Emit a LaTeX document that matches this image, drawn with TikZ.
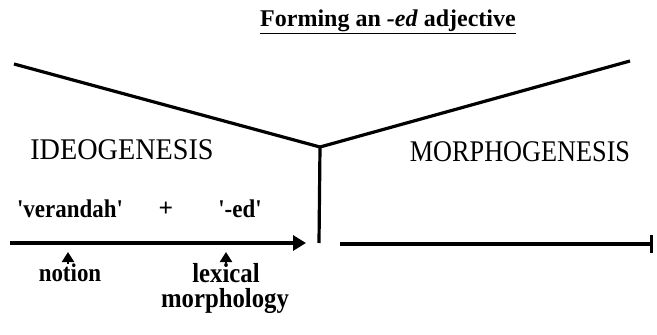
\documentclass[tikz,border=0pt]{standalone}
\usepackage{fontspec}
\usepackage{graphicx}
\setmainfont{Liberation Serif}
\usetikzlibrary{arrows.meta}
\newcommand{\cnd}[1]{\scalebox{0.9}[1]{#1}}
\begin{document}
\begin{tikzpicture}[x=1pt,y=-1pt,
  thickline/.style={line width=3.2pt},
  bigtxt/.style={font=\fontsize{30}{32}\selectfont, inner sep=0pt},
  midtxt/.style={font=\bfseries\fontsize{24}{26}\selectfont, inner sep=0pt},
  lbltxt/.style={font=\bfseries\fontsize{25.5}{27}\selectfont, inner sep=0pt},
  lbltxtb/.style={font=\bfseries\fontsize{27.5}{29}\selectfont, inner sep=0pt},
  smallarrow/.style={line width=2.2pt,-{Triangle[length=10pt,width=12pt]}},
  mainarrow/.style={line width=3.2pt,-{Triangle[length=13pt,width=15pt]}}]
\useasboundingbox (0,0) rectangle (657,335);
\node[midtxt] (title) at (388,22) {\underline{Forming an \textit{-ed} adjective}};
\coordinate (vl) at (14,64);
\coordinate (vv) at (320,147);
\coordinate (vr) at (630,61);
\coordinate (vb) at (319,243);
\draw[thickline,line join=miter] (vl) -- (vv) -- (vr);
\draw[thickline] (vv) -- (vb);
\node[bigtxt] (ideo) at (122,150) {\scalebox{0.94}[1]{IDEOGENESIS}};
\node[bigtxt] (morph) at (520,152) {\scalebox{0.875}[1]{MORPHOGENESIS}};
\node[lbltxt] (ver) at (70,209) {\cnd{\textquotesingle verandah\textquotesingle}};
\node[lbltxt] (plus) at (166,209) {+};
\node[lbltxt] (ed) at (240,209) {\cnd{\textquotesingle-ed\textquotesingle}};
\coordinate (a1) at (10,243);
\coordinate (a2) at (306,243);
\draw[mainarrow] (a1) -- (a2);
\coordinate (b1) at (340,244);
\coordinate (b2) at (653,244);
\draw[thickline,-{Bar[width=18pt]}] (b1) -- (b2);
\node[lbltxt] (notion) at (70,273) {\cnd{notion}};
\node[lbltxtb] (lex) at (226,273) {\cnd{lexical}};
\node[lbltxtb] (morphl) at (225,301) {\cnd{morphology}};
\coordinate (n1) at (68,252);
\coordinate (l1) at (226,252);
\draw[smallarrow] (notion.north -| n1) -- (n1);
\draw[smallarrow] (lex.north -| l1) -- (l1);
\end{tikzpicture}
\end{document}
